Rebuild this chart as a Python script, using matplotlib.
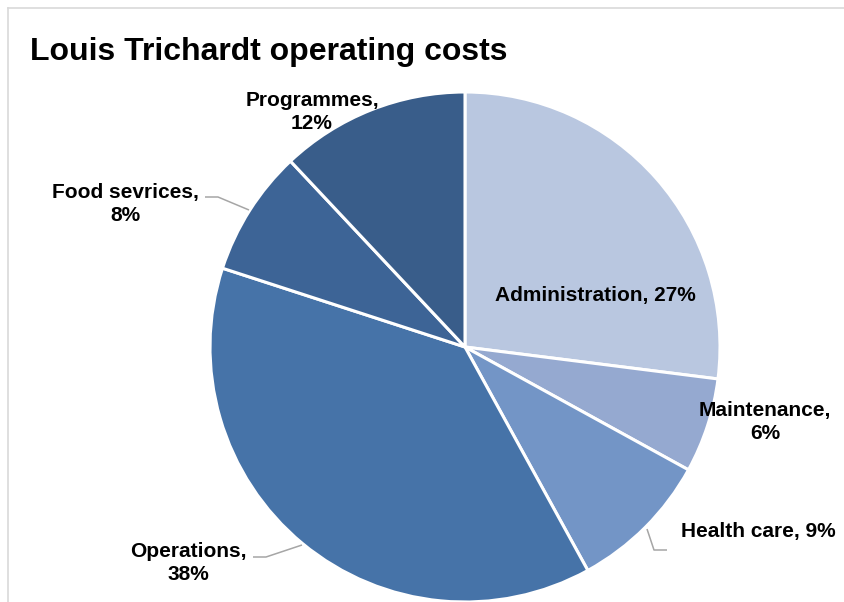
import matplotlib

matplotlib.use("Agg")
import matplotlib.pyplot as plt
from matplotlib.lines import Line2D

categories = ["Administration", "Maintenance", "Health care", "Operations", "Food sevrices", "Programmes"]
shares = [27, 6, 9, 38, 8, 12]
colors = ["#B9C7E0", "#95A9D0", "#7395C6", "#4673A8", "#3D6496", "#395D8A"]

# label layout in pixels (x centre, y centre, wrap after name)
label_pos = [(595, 296, False), (765, 422, True), (758, 532, False),
             (188, 563, True), (125, 204, True), (312, 112, True)]
leaders = {
    3: [(253, 557), (266, 557), (302, 545)],
    4: [(205, 197), (218, 197), (249, 210)],
    2: [(667, 550), (654, 550), (647, 529)],
}

W, H = 845, 602
CX, CY, R = 465, 347, 255

plt.rcParams["font.family"] = ["Liberation Sans", "DejaVu Sans"]


def to_data(x, y):
    return (x - CX) / R, (CY - y) / R


fig = plt.figure(figsize=(W / 100, H / 100), dpi=100)
ax = fig.add_axes([0, 0, 1, 1])
ax.pie(shares, colors=colors, startangle=90, counterclock=False, radius=1,
       wedgeprops=dict(edgecolor="white", linewidth=2.2))
ax.set_xlim(-CX / R, (W - CX) / R)
ax.set_ylim((CY - H) / R, CY / R)
ax.set_aspect("equal")
ax.axis("off")

for i, (name, val) in enumerate(zip(categories, shares)):
    x, y, wrap = label_pos[i]
    sep = ",\n" if wrap else ", "
    tx, ty = to_data(x, y)
    ax.text(tx, ty, f"{name}{sep}{val}%", ha="center", va="center",
            fontsize=15, fontweight="bold", color="black", linespacing=1.3)

for i, pts in leaders.items():
    xs, ys = zip(*[to_data(px, py) for px, py in pts])
    ax.plot(xs, ys, color="#A6A6A6", linewidth=1.1, solid_capstyle="butt")

# chart frame (top and left edges visible)
fig.add_artist(Line2D([8 / W, 1], [1 - 8 / H, 1 - 8 / H], color="#D9D9D9", linewidth=1.2))
fig.add_artist(Line2D([8 / W, 8 / W], [0, 1 - 8 / H], color="#D9D9D9", linewidth=1.2))

fig.text(30 / W, 1 - 60 / H, "Louis Trichardt operating costs", ha="left", va="baseline",
         fontsize=23, fontweight="bold", color="black")

fig.savefig("out.png", dpi=100)
